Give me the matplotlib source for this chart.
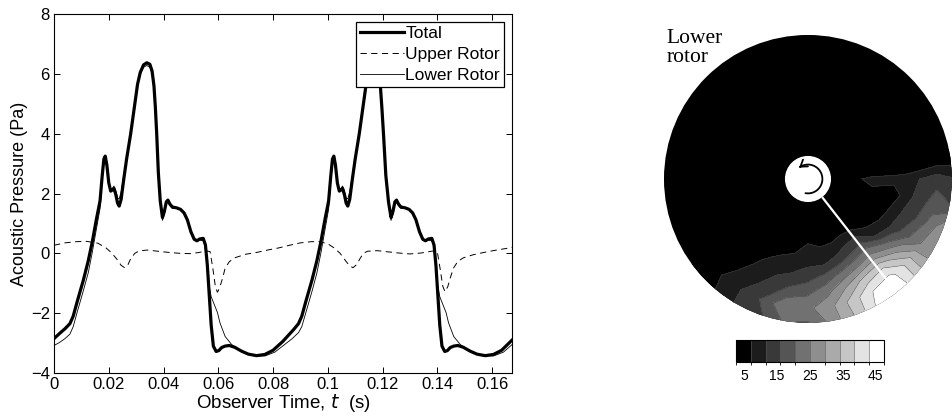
import numpy as np
import matplotlib
matplotlib.use('Agg')
import matplotlib.pyplot as plt
from matplotlib.patches import Circle, FancyArrowPatch
from matplotlib.path import Path
from matplotlib.colors import ListedColormap, BoundaryNorm

plt.rcParams['font.family'] = ['Liberation Sans', 'DejaVu Sans']
plt.rcParams['lines.scale_dashes'] = False

# ---------------- time-history data ----------------
t_total = [0.0000, 0.0020, 0.0040, 0.0058, 0.0070, 0.0085, 0.0107, 0.0125, 0.0140, 0.0155,
           0.0168, 0.0176, 0.0182, 0.0187, 0.0193, 0.0200, 0.0207, 0.0213, 0.0219, 0.0226,
           0.0232, 0.0238, 0.0245, 0.0255, 0.0265, 0.0280, 0.0295, 0.0305, 0.0315, 0.0327,
           0.0339, 0.0350, 0.0358, 0.0365, 0.0370, 0.0375, 0.0381, 0.0388, 0.0396, 0.0403,
           0.0410, 0.0416, 0.0423, 0.0432, 0.0448, 0.0462, 0.0475, 0.0487, 0.0500, 0.0512,
           0.0522, 0.0532, 0.0545, 0.0553, 0.0560, 0.0567, 0.0574, 0.0582, 0.0592, 0.0602,
           0.0612, 0.0625, 0.0640, 0.0660, 0.0685, 0.0710, 0.0740, 0.0770, 0.0800, 0.0835,
           0.0855, 0.0875, 0.0893, 0.0905, 0.0920, 0.0942, 0.0960, 0.0975, 0.0990, 0.1003,
           0.1011, 0.1017, 0.1022, 0.1028, 0.1035, 0.1042, 0.1048, 0.1054, 0.1061, 0.1067,
           0.1073, 0.1080, 0.1090, 0.1100, 0.1115, 0.1130, 0.1140, 0.1150, 0.1162, 0.1174,
           0.1185, 0.1192, 0.1198, 0.1204, 0.1212, 0.1222, 0.1231, 0.1238, 0.1245, 0.1251,
           0.1258, 0.1267, 0.1283, 0.1297, 0.1310, 0.1322, 0.1335, 0.1347, 0.1357, 0.1367,
           0.1380, 0.1388, 0.1395, 0.1402, 0.1409, 0.1417, 0.1427, 0.1437, 0.1447, 0.1460,
           0.1475, 0.1495, 0.1520, 0.1545, 0.1575, 0.1605, 0.1635, 0.1673]
p_total = [-2.85, -2.68, -2.52, -2.35, -2.10, -1.60, -0.90, -0.25, 0.40, 1.15,
           1.75, 2.60, 3.15, 3.25, 2.95, 2.35, 2.08, 2.12, 2.17, 1.95,
           1.68, 1.58, 1.80, 2.50, 3.15, 4.00, 5.00, 5.65, 6.05, 6.30,
           6.37, 6.32, 6.10, 5.60, 4.90, 4.00, 2.70, 1.75, 1.20, 1.40,
           1.72, 1.78, 1.65, 1.55, 1.52, 1.47, 1.35, 1.12, 0.72, 0.47,
           0.42, 0.48, 0.50, 0.28, -0.40, -1.40, -2.40, -3.10, -3.28, -3.25,
           -3.15, -3.10, -3.08, -3.14, -3.27, -3.37, -3.42, -3.38, -3.24, -2.95,
           -2.75, -2.55, -2.35, -2.10, -1.60, -0.90, -0.25, 0.40, 1.15, 1.75,
           2.60, 3.15, 3.25, 2.95, 2.35, 2.08, 2.12, 2.17, 1.95, 1.68,
           1.58, 1.80, 2.50, 3.15, 4.00, 5.00, 5.65, 6.05, 6.30, 6.37,
           6.10, 5.60, 4.80, 3.90, 2.60, 1.70, 1.20, 1.40, 1.72, 1.78,
           1.65, 1.55, 1.52, 1.47, 1.35, 1.12, 0.72, 0.47, 0.42, 0.48,
           0.50, 0.28, -0.40, -1.40, -2.40, -3.10, -3.28, -3.25, -3.15, -3.10,
           -3.08, -3.14, -3.27, -3.37, -3.42, -3.38, -3.24, -2.90]

t_upper = [0.0000, 0.0040, 0.0080, 0.0120, 0.0160, 0.0190, 0.0210, 0.0230, 0.0245, 0.0258,
           0.0270, 0.0280, 0.0295, 0.0310, 0.0340, 0.0380, 0.0420, 0.0460, 0.0500, 0.0530,
           0.0555, 0.0570, 0.0580, 0.0590, 0.0597, 0.0605, 0.0615, 0.0625, 0.0640, 0.0660,
           0.0700, 0.0740, 0.0780, 0.0820, 0.0860, 0.0900, 0.0940, 0.0970, 0.1000, 0.1025,
           0.1045, 0.1065, 0.1080, 0.1092, 0.1105, 0.1118, 0.1130, 0.1145, 0.1180, 0.1220,
           0.1260, 0.1300, 0.1340, 0.1385, 0.1400, 0.1410, 0.1420, 0.1428, 0.1438, 0.1448,
           0.1460, 0.1475, 0.1495, 0.1530, 0.1570, 0.1610, 0.1650, 0.1673]
p_upper = [0.27, 0.35, 0.39, 0.40, 0.34, 0.18, 0.02, -0.20, -0.40, -0.48,
           -0.38, -0.18, 0.00, 0.08, 0.11, 0.07, 0.03, 0.00, -0.01, 0.03,
           0.08, 0.06, -0.50, -1.15, -1.30, -1.15, -0.85, -0.50, -0.28, -0.15,
           -0.03, 0.03, 0.11, 0.18, 0.27, 0.35, 0.39, 0.39, 0.32, 0.17,
           0.00, -0.25, -0.42, -0.48, -0.38, -0.17, 0.00, 0.07, 0.09, 0.05,
           0.01, -0.02, 0.01, 0.08, 0.05, -0.50, -1.10, -1.28, -1.12, -0.80,
           -0.48, -0.27, -0.15, -0.05, 0.03, 0.10, 0.16, 0.20]

t_lower = [0.0000, 0.0020, 0.0040, 0.0058, 0.0070, 0.0085, 0.0107, 0.0125, 0.0140, 0.0155,
           0.0168, 0.0176, 0.0182, 0.0187, 0.0193, 0.0200, 0.0207, 0.0213, 0.0219, 0.0226,
           0.0232, 0.0238, 0.0245, 0.0255, 0.0265, 0.0280, 0.0295, 0.0305, 0.0315, 0.0327,
           0.0339, 0.0350, 0.0358, 0.0365, 0.0370, 0.0375, 0.0381, 0.0388, 0.0396, 0.0403,
           0.0410, 0.0416, 0.0423, 0.0432, 0.0448, 0.0462, 0.0475, 0.0487, 0.0500, 0.0512,
           0.0522, 0.0532, 0.0545, 0.0553, 0.0560, 0.0566, 0.0574, 0.0585, 0.0597, 0.0606,
           0.0625, 0.0649, 0.0686, 0.0734, 0.0771, 0.0807, 0.0838, 0.0870, 0.0893, 0.0905,
           0.0920, 0.0942, 0.0960, 0.0975, 0.0990, 0.1003, 0.1011, 0.1017, 0.1022, 0.1028,
           0.1035, 0.1042, 0.1048, 0.1054, 0.1061, 0.1067, 0.1073, 0.1080, 0.1090, 0.1100,
           0.1115, 0.1130, 0.1140, 0.1150, 0.1162, 0.1174, 0.1185, 0.1192, 0.1198, 0.1204,
           0.1212, 0.1222, 0.1231, 0.1238, 0.1245, 0.1251, 0.1258, 0.1267, 0.1283, 0.1297,
           0.1310, 0.1322, 0.1335, 0.1347, 0.1357, 0.1367, 0.1380, 0.1388, 0.1395, 0.1401,
           0.1409, 0.1420, 0.1432, 0.1441, 0.1460, 0.1484, 0.1521, 0.1569, 0.1606, 0.1642,
           0.1673]
p_lower = [-3.08, -2.98, -2.85, -2.70, -2.45, -1.95, -1.25, -0.65, 0.05, 0.82,
           1.50, 2.45, 3.02, 3.15, 2.85, 2.30, 2.10, 2.17, 2.25, 2.08,
           1.85, 1.82, 2.05, 2.62, 3.20, 4.00, 4.98, 5.60, 5.98, 6.22,
           6.28, 6.22, 6.00, 5.52, 4.82, 3.92, 2.62, 1.66, 1.10, 1.30,
           1.64, 1.72, 1.60, 1.50, 1.50, 1.46, 1.35, 1.12, 0.72, 0.46,
           0.40, 0.44, 0.42, 0.22, -0.40, -1.05, -1.45, -1.70, -1.98, -2.32,
           -2.78, -3.05, -3.28, -3.43, -3.43, -3.30, -3.08, -2.85, -2.65, -2.45,
           -1.98, -1.28, -0.66, 0.02, 0.80, 1.48, 2.45, 3.02, 3.15, 2.85,
           2.30, 2.10, 2.17, 2.25, 2.08, 1.85, 1.82, 2.05, 2.62, 3.20,
           4.00, 4.98, 5.60, 5.98, 6.22, 6.28, 6.05, 5.55, 4.75, 3.85,
           2.55, 1.62, 1.10, 1.30, 1.64, 1.72, 1.60, 1.50, 1.50, 1.46,
           1.35, 1.12, 0.72, 0.46, 0.40, 0.44, 0.42, 0.22, -0.40, -1.05,
           -1.45, -1.70, -1.98, -2.32, -2.78, -3.05, -3.28, -3.43, -3.43, -3.30,
           -3.05]

series_labels = ['Total', 'Upper Rotor', 'Lower Rotor']
x_ticks = [0, 0.02, 0.04, 0.06, 0.08, 0.10, 0.12, 0.14, 0.16]
x_tick_labels = ['0', '0.02', '0.04', '0.06', '0.08', '0.1', '0.12', '0.14', '0.16']
y_ticks = [-4, -2, 0, 2, 4, 6, 8]

# ---------------- rotor-disk contour data ----------------
disk_r = [0.16, 0.30, 0.45, 0.60, 0.70, 0.80, 0.90, 1.00]
disk_theta_deg = [-150, -140, -130, -120, -110, -100, -90, -80, -70, -60,
                  -50, -40, -30, -20, -10, 0, 10, 20, 30]
disk_values = [
    # -150 -140 -130 -120 -110 -100 -90 -80 -70 -60 -50 -40 -30 -20 -10  0  10 20 30
    [0, 0, 0, 0, 0, 0, 0, 0, 0, 0, 0, 0, 0, 0, 0, 0, 0, 0, 0],             # r=0.16
    [0, 0, 0, 0, 1, 1, 1, 1, 1, 1, 1, 1, 1, 1, 3, 5, 0, 0, 0],             # r=0.30
    [0, 0, 1, 2, 4, 5, 7, 6, 6, 7, 6, 4, 3, 3, 6, 9, 0, 0, 0],             # r=0.45
    [0, 1, 3, 6, 8, 9, 11, 11, 13, 16, 18, 10, 8, 7, 4, 9, 0, 0, 0],       # r=0.60
    [0, 1, 4, 8, 11, 13, 15, 18, 22, 25, 27, 21, 14, 12, 10, 10, 0, 0, 0],  # r=0.70
    [0, 2, 6, 10, 13, 18, 20, 24, 30, 36, 38, 30, 20, 16, 14, 12, 1, 0, 0],  # r=0.80
    [0, 3, 8, 12, 17, 25, 24, 28, 36, 43, 45, 37, 25, 22, 18, 14, 2, 0, 0],  # r=0.90
    [0, 4, 7, 12, 15, 21, 20, 27, 35, 45, 47, 36, 26, 28, 16, 12, 3, 0, 0],  # r=1.00
]
contour_levels = [2.5, 7, 11.5, 16, 20.5, 25, 29.5, 34, 38.5, 43, 47.5]
cbar_ticks = [5, 15, 25, 35, 45]
hub_radius = 0.16
marker_angle_deg = -52

# ---------------- figure ----------------
fig = plt.figure(figsize=(9.53, 4.17), dpi=100)

ax = fig.add_axes([0.0567, 0.1055, 0.4806, 0.8609])
l1, = ax.plot(t_total, p_total, color='black', lw=2.3, solid_joinstyle='round')
l2, = ax.plot(t_upper, p_upper, color='black', lw=0.7, dashes=(4.5, 3.2))
l3, = ax.plot(t_lower, p_lower, color='black', lw=0.6)
ax.set_xlim(0, 0.1673)
ax.set_ylim(-4, 8)
ax.set_xticks(x_ticks)
ax.set_xticklabels(x_tick_labels)
ax.set_yticks(y_ticks)
ax.tick_params(direction='in', top=True, right=True, length=4, width=0.7,
               labelsize=12, pad=3)
for s in ax.spines.values():
    s.set_linewidth(0.8)
ax.set_xlabel('Observer Time, $t$  (s)', fontsize=13.5, labelpad=0)
ax.set_ylabel('Acoustic Pressure (Pa)', fontsize=13, labelpad=2)
leg = ax.legend([l1, l2, l3], series_labels, loc='upper right', fontsize=12.5,
                fancybox=False, framealpha=1, edgecolor='black',
                handlelength=2.5, handletextpad=0.1, labelspacing=0.32,
                borderpad=0.25, borderaxespad=0.45)
leg.get_frame().set_linewidth(0.9)

# ---- rotor disk ----
ax2 = fig.add_axes([0.6665, 0.1564, 0.3332, 0.8288])
ax2.set_xlim(-1.2, 1.005)
ax2.set_ylim(-1.2, 1.2)
ax2.set_aspect('equal')
ax2.axis('off')

theta_full = np.arange(-180, 181, 10)
Z = np.zeros((len(disk_r), len(theta_full)))
i0 = int(np.where(theta_full == disk_theta_deg[0])[0][0])
Z[:, i0:i0 + len(disk_theta_deg)] = np.array(disk_values, dtype=float)
TH, RR = np.meshgrid(np.deg2rad(theta_full), np.array(disk_r))
X = RR * np.cos(TH)
Y = RR * np.sin(TH)

ax2.add_patch(Circle((0, 0), 1.0, facecolor='black', edgecolor='none', zorder=0))
grays = [str(v) for v in np.linspace(0, 1, 10)]
cmap = ListedColormap(grays)
norm = BoundaryNorm(contour_levels, cmap.N)
cs = ax2.contourf(X, Y, Z, levels=contour_levels, cmap=cmap, norm=norm, zorder=1)
cl = ax2.contour(X, Y, Z, levels=contour_levels[1:-1], colors='#404040',
                 linewidths=0.35, zorder=2)
clip = Circle((0, 0), 1.0, transform=ax2.transData)
cs.set_clip_path(clip)
cl.set_clip_path(clip)

ax2.add_patch(Circle((0, 0), hub_radius, facecolor='white', edgecolor='none', zorder=3))
ma = np.deg2rad(marker_angle_deg)
ax2.plot([hub_radius * np.cos(ma), 0.95 * np.cos(ma)],
         [hub_radius * np.sin(ma), 0.95 * np.sin(ma)],
         color='white', lw=1.6, zorder=4, solid_capstyle='butt')
arc_a = np.deg2rad(np.linspace(-100, 128, 60))
arc_path = Path(np.column_stack([0.1 * np.cos(arc_a), 0.1 * np.sin(arc_a)]))
arrow = FancyArrowPatch(path=arc_path, arrowstyle='->,head_length=0.45,head_width=0.3',
                        mutation_scale=10, color='black', lw=1.3, zorder=5)
ax2.add_patch(arrow)

ax2.text(-0.98, 1.04, 'Lower\nrotor', family=['Liberation Serif', 'DejaVu Serif'],
         fontsize=15.5, va='top', ha='left', linespacing=0.95)

cax = fig.add_axes([0.7723, 0.1319, 0.1553, 0.0528])
cb = fig.colorbar(cs, cax=cax, orientation='horizontal', ticks=cbar_ticks,
                  drawedges=True)
cb.outline.set_linewidth(0.8)
cb.dividers.set_color('#555555')
cb.dividers.set_linewidth(0.4)
cax.tick_params(length=0, labelsize=10, pad=5)

fig.savefig('out.png', dpi=100)
